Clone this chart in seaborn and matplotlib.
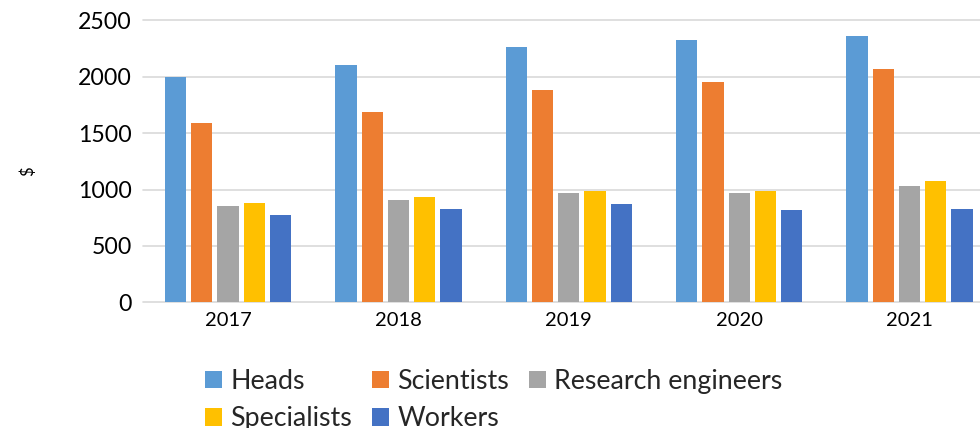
import matplotlib
matplotlib.use("Agg")
import matplotlib.pyplot as plt
import seaborn as sns
import pandas as pd

# Average monthly pay by staff category, per year
years = ["2017", "2018", "2019", "2020", "2021"]
categories = ["Heads", "Scientists", "Research engineers", "Specialists", "Workers"]
heads = [2000, 2105, 2265, 2325, 2360]
scientists = [1590, 1690, 1880, 1955, 2070]
research_engineers = [855, 905, 970, 970, 1030]
specialists = [880, 935, 985, 985, 1075]
workers = [775, 825, 870, 820, 825]
y_ticks = [0, 500, 1000, 1500, 2000, 2500]

colors = ["#5B9BD5", "#ED7D31", "#A5A5A5", "#FFC000", "#4472C4"]

series = [heads, scientists, research_engineers, specialists, workers]
rows = []
for cat, vals in zip(categories, series):
    for yr, v in zip(years, vals):
        rows.append({"year": yr, "category": cat, "value": v})
df = pd.DataFrame(rows)

sns.set_theme(style="white")
plt.rcParams["font.family"] = ["Lato", "DejaVu Sans"]

W, H = 980, 428
fig = plt.figure(figsize=(W / 100, H / 100), dpi=100)
ax_left, ax_bottom_px, ax_top_px, ax_w = 142.8, 302.3, 20.3, 852
ax = fig.add_axes([ax_left / W, (H - ax_bottom_px) / H, ax_w / W, (ax_bottom_px - ax_top_px) / H])

sns.barplot(data=df, x="year", y="value", hue="category", order=years,
            hue_order=categories, palette=colors, width=0.77, gap=0.19,
            saturation=1, linewidth=0, ax=ax, legend=True)

ax.set_ylim(0, 2500)
ax.set_yticks(y_ticks)
ax.set_xlim(-0.5, len(years) - 0.5)
ax.set_xlabel("")
ax.set_ylabel("")
for s in ax.spines.values():
    s.set_visible(False)
ax.set_axisbelow(True)
ax.yaxis.grid(True, color="#D9D9D9", linewidth=1.2)
for gl in ax.get_ygridlines():
    gl.set_clip_on(False)
ax.tick_params(axis="y", length=0, pad=8, labelsize=16.7, labelcolor="#000000")
ax.tick_params(axis="x", length=0, pad=7, labelsize=14.5, labelcolor="#000000")

fig.text(28 / W, 1 - 171 / H, "$", rotation=90, ha="center", va="center",
         fontsize=12, color="#000000")

handles, labels = ax.get_legend_handles_labels()
ax.get_legend().remove()
order = [0, 3, 1, 4, 2]
fig.legend([handles[i] for i in order], [labels[i] for i in order],
           ncol=3, loc="upper left", bbox_to_anchor=(205 / W, 1 - 369 / H),
           frameon=False, fontsize=19.3, borderpad=0, borderaxespad=0,
           handlelength=0.64, handleheight=0.62, handletextpad=0.3,
           columnspacing=0.75, labelspacing=0.46)

fig.savefig("out.png", dpi=100)
